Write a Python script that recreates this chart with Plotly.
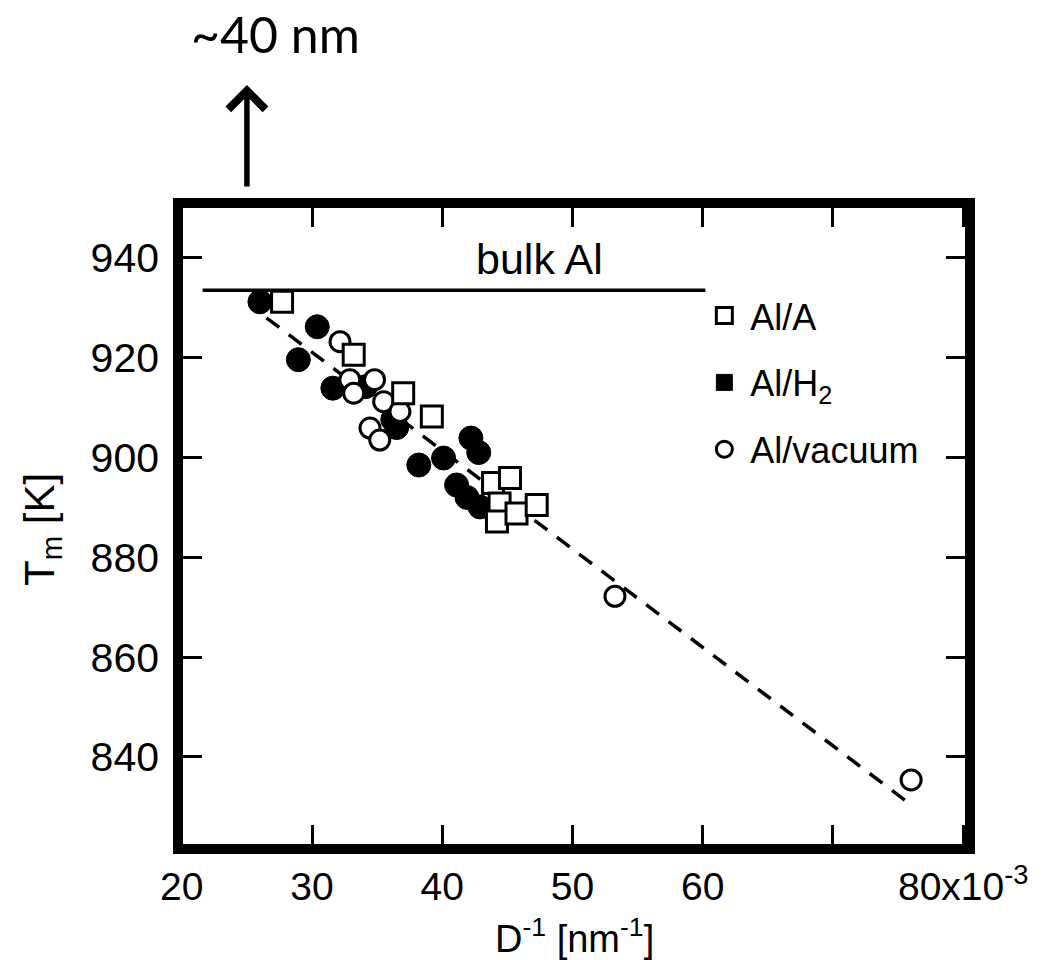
import plotly.graph_objects as go

# ---- data ----
al_a_x = [27.7, 33.2, 37.0, 39.2, 43.9, 45.2, 44.4, 44.2, 45.7, 47.25]
al_a_y = [931.2, 920.6, 912.9, 908.2, 894.9, 895.9, 890.8, 887.2, 888.8, 890.5]

al_h2_x = [26.0, 30.4, 28.95, 31.6, 34.1, 36.2, 36.5, 42.2, 42.8, 38.2, 40.1, 41.1, 41.9, 42.9]
al_h2_y = [931.2, 926.2, 919.6, 913.9, 914.2, 907.6, 906.0, 903.9, 901.0, 898.5, 899.9, 894.5, 892.0, 890.1]

al_vac_x = [32.15, 32.9, 33.2, 34.8, 35.5, 36.75, 34.45, 35.2, 53.26, 76.0]
al_vac_y = [923.2, 915.6, 912.9, 915.6, 911.2, 909.2, 905.9, 903.5, 872.2, 835.4]

fit_x = [26.5, 75.8]
fit_y = [928.0, 830.8]

bulk_x = [21.6, 60.2]
bulk_y = [933.5, 933.5]

x_tickvals = [20, 30, 40, 50, 60, 70, 80]
x_ticktext = ["20", "30", "40", "50", "60", " ", "80x10<sup>-3</sup>"]
y_tickvals = [840, 860, 880, 900, 920, 940]
y_ticktext = ["840", "860", "880", "900", "920", "940"]

series_names = ["Al/A", "Al/H<sub>2</sub>", "Al/vacuum"]

FONT = "Liberation Sans, Arial, sans-serif"

fig = go.Figure()

fig.add_trace(go.Scatter(x=bulk_x, y=bulk_y, mode="lines",
                         line=dict(color="black", width=3.5),
                         showlegend=False, hoverinfo="skip"))
fig.add_trace(go.Scatter(x=fit_x, y=fit_y, mode="lines",
                         line=dict(color="black", width=3.5, dash="16px,12px"),
                         showlegend=False, hoverinfo="skip"))

# filled circles (Al/H2) – legend shows filled square via a legend-only entry
fig.add_trace(go.Scatter(x=al_h2_x, y=al_h2_y, mode="markers", name=series_names[1],
                         marker=dict(symbol="circle", size=24, color="black",
                                     line=dict(color="black", width=1)),
                         showlegend=False))
fig.add_trace(go.Scatter(x=al_vac_x, y=al_vac_y, mode="markers", name=series_names[2],
                         legendgroup="v", legendrank=3,
                         marker=dict(symbol="circle", size=20, color="white",
                                     line=dict(color="black", width=3))))
fig.add_trace(go.Scatter(x=al_a_x, y=al_a_y, mode="markers", name=series_names[0],
                         legendgroup="a", legendrank=1,
                         marker=dict(symbol="square", size=21, color="white",
                                     line=dict(color="black", width=3))))
fig.add_trace(go.Scatter(x=[None], y=[None], mode="markers", name=series_names[1],
                         legendgroup="h", legendrank=2,
                         marker=dict(symbol="square", size=22, color="black",
                                     line=dict(color="black", width=1))))

axis_common = dict(showgrid=False, zeroline=False, showline=False,
                   ticks="inside", ticklen=24, tickwidth=2.5, tickcolor="black",
                   mirror="ticks")

fig.update_xaxes(range=[19.71, 80.52], tickmode="array", tickvals=x_tickvals,
                 ticktext=x_ticktext, tickfont=dict(family=FONT, size=39, color="black"),
                 ticklabelstandoff=11, **axis_common)
fig.update_yaxes(range=[821.56, 951.0], tickmode="array", tickvals=y_tickvals,
                 ticktext=y_ticktext, tickfont=dict(family=FONT, size=41, color="black"),
                 ticklabelstandoff=18, **axis_common)

fig.update_layout(
    width=1043, height=960,
    margin=dict(l=178, r=73, t=203, b=111, pad=0),
    paper_bgcolor="white", plot_bgcolor="white",
    font=dict(family=FONT, color="black"),
    legend=dict(x=0.657, y=0.872, xanchor="left", yanchor="top",
                font=dict(family=FONT, size=36, color="black"),
                bgcolor="rgba(0,0,0,0)", tracegroupgap=17, itemwidth=42),
    shapes=[dict(type="rect", xref="paper", yref="paper", x0=0, x1=1, y0=0, y1=1,
                 line=dict(color="black", width=10), layer="above")],
    annotations=[
        dict(text="D<sup>-1</sup> [nm<sup>-1</sup>]", xref="paper", yref="paper",
             x=0.5, y=-0.134, xanchor="center", yanchor="middle", showarrow=False,
             font=dict(family=FONT, size=38, color="black")),
        dict(text="T<sub>m</sub> [K]", xref="paper", yref="paper", textangle=-90,
             x=-0.172, y=0.495, xanchor="center", yanchor="middle", showarrow=False,
             font=dict(family=FONT, size=42, color="black")),
        dict(text="bulk Al", xref="paper", yref="paper", x=0.457, y=0.914,
             xanchor="center", yanchor="middle", showarrow=False,
             font=dict(family=FONT, size=43, color="black")),
        dict(text="~40 nm", xref="paper", yref="paper", x=0.1225, y=1.2615,
             xanchor="center", yanchor="middle", showarrow=False,
             font=dict(family="Lato, Open Sans, sans-serif", size=50, color="black")),
        dict(text="", xref="x", yref="paper", x=25, y=1.1827, ax=0, ay=103,
             axref="pixel", ayref="pixel", showarrow=True, arrowhead=4,
             arrowsize=1.3, arrowwidth=5.5, arrowcolor="black"),
    ],
)

fig.write_html("out.html", config={"displayModeBar": False},
               post_script="document.body.style.margin='0';document.body.style.overflow='hidden';")
